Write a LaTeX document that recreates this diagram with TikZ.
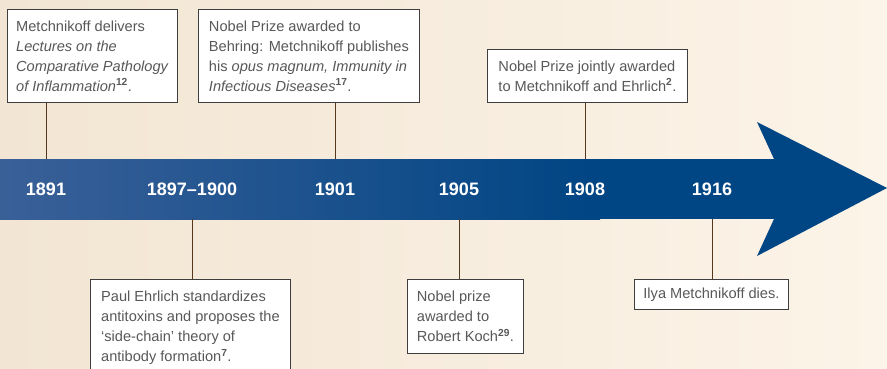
\documentclass[tikz,border=0pt]{standalone}
\usepackage{fontspec}
\setmainfont{Liberation Sans}
\usepackage{tikz}
\definecolor{paperLeft}{RGB}{242,229,211}
\definecolor{paperRight}{RGB}{252,244,232}
\definecolor{bandLeft}{RGB}{58,96,152}
\definecolor{bandRight}{RGB}{0,69,132}
\definecolor{boxText}{RGB}{88,88,88}
\definecolor{boxEdge}{RGB}{62,62,62}
\colorlet{stemColour}{black!55!brown}
\tikzset{
  eventBox/.style={draw=boxEdge, fill=white, line width=0.9pt, anchor=north west,
    align=left, inner xsep=0pt, inner ysep=0pt, text=boxText,
    font=\fontsize{14.6}{20}\selectfont},
  yearLabel/.style={text=white, font=\fontsize{18}{20}\selectfont\bfseries},
  eventStem/.style={draw=stemColour, line width=0.9pt}
}
\newcommand\refnum[1]{\textsuperscript{\bfseries #1}}
\begin{document}
\begin{tikzpicture}[x=1pt, y=-1pt]
\clip (0,0) rectangle (887,369);
\shade[left color=paperLeft, right color=paperRight] (0,0) rectangle (887,369);
% the time band and its head
\shade[left color=bandLeft, right color=bandRight] (0,159) rectangle (600,219);
\fill[bandRight] (599,159) rectangle (775,219);
\fill[bandRight] (757,122) -- (887,188) -- (757,256) -- (774,219) -- (774,159) -- cycle;
\coordinate (bandTop) at (0,159);
\coordinate (bandBot) at (0,219);
\foreach \nm/\lbl/\xpos in {1891/1891/46, 1897/{1897--1900}/192, 1901/1901/335,
  1905/1905/459, 1908/1908/585, 1916/1916/712} {
  \node[yearLabel] (yr\nm) at (\xpos,189) {\lbl};
}
% events above the band
\node[eventBox, minimum width=170pt, minimum height=93pt] (box1891) at (7,9)
  {Metchnikoff delivers\\ \textit{Lectures on the}\\ \textit{Comparative Pathology}\\
   \textit{of Inflammation}\refnum{12}.};
\node[eventBox, minimum width=221pt, minimum height=93pt] (box1901) at (198,9)
  {Nobel Prize awarded to\\ Behring: Metchnikoff publishes\\
   his \textit{opus magnum, Immunity in}\\ \textit{Infectious Diseases}\refnum{17}.};
\node[eventBox, minimum width=200pt, minimum height=53pt] (box1908) at (487,49)
  {Nobel Prize jointly awarded\\ to Metchnikoff and Ehrlich\refnum{2}.};
% events below the band
\node[eventBox, minimum width=200pt, minimum height=96pt] (box1897) at (90,279)
  {Paul Ehrlich standardizes\\ antitoxins and proposes the\\
   ‘side-chain’ theory of\\ antibody formation\refnum{7}.};
\node[eventBox, minimum width=116pt, minimum height=74pt] (box1905) at (407,279)
  {Nobel prize\\ awarded to\\ Robert Koch\refnum{29}.};
\node[eventBox, minimum width=154pt, minimum height=30pt] (box1916) at (634,279)
  {Ilya Metchnikoff dies.};
\foreach \nm in {1891,1901,1908}
  \draw[eventStem] (box\nm.south -| yr\nm) -- (yr\nm |- bandTop);
\foreach \nm in {1897,1905,1916}
  \draw[eventStem] (yr\nm |- bandBot) -- (box\nm.north -| yr\nm);
\end{tikzpicture}
\end{document}
